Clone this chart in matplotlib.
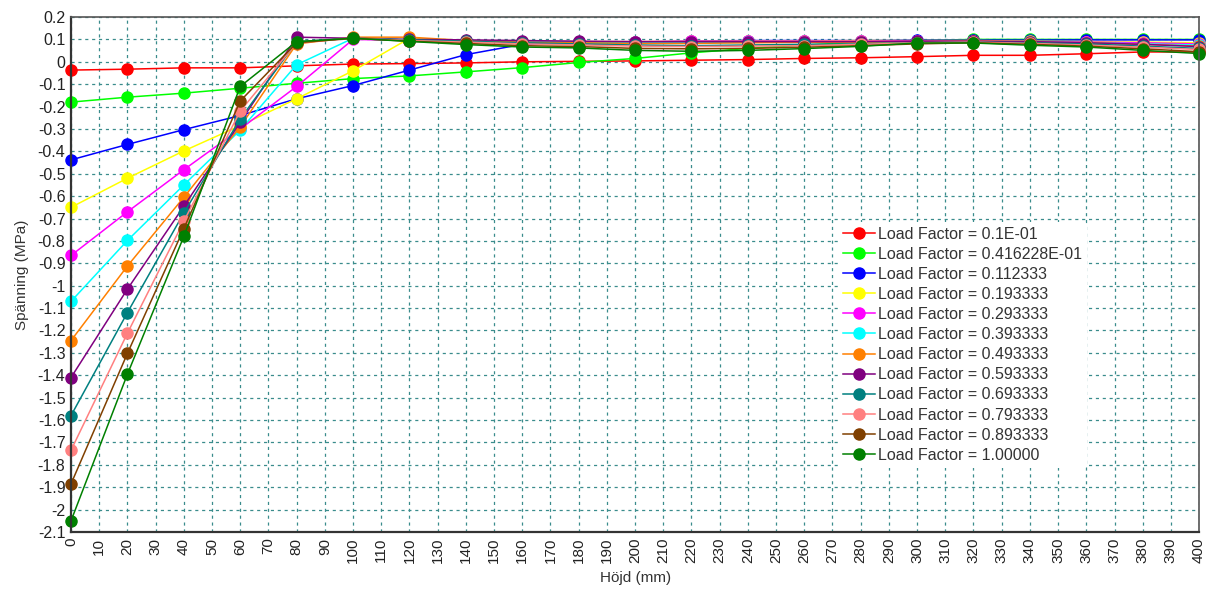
import matplotlib
matplotlib.use("Agg")
import matplotlib.pyplot as plt
import numpy as np

plt.rcParams['font.family'] = ['Liberation Sans', 'DejaVu Sans']

heights = [0, 20, 40, 60, 80, 100, 120, 140, 160, 180, 200, 220, 240, 260, 280, 300, 320, 340, 360, 380, 400]

labels = ["Load Factor = 0.1E-01", "Load Factor = 0.416228E-01", "Load Factor = 0.112333",
          "Load Factor = 0.193333", "Load Factor = 0.293333", "Load Factor = 0.393333",
          "Load Factor = 0.493333", "Load Factor = 0.593333", "Load Factor = 0.693333",
          "Load Factor = 0.793333", "Load Factor = 0.893333", "Load Factor = 1.00000"]

colors = ['#ff0000', '#00ff00', '#0000ff', '#ffff00', '#ff00ff', '#00ffff',
          '#ff8000', '#800080', '#008080', '#ff8080', '#804000', '#008000']

lf_001 = [-0.037, -0.033, -0.027, -0.027, -0.018, -0.010, -0.008, -0.005, 0.000, 0.002, 0.004, 0.007, 0.010, 0.015, 0.018, 0.023, 0.029, 0.029, 0.036, 0.044, 0.044]
lf_0042 = [-0.180, -0.158, -0.140, -0.118, -0.096, -0.075, -0.063, -0.045, -0.026, -0.003, 0.015, 0.040, 0.060, 0.075, 0.088, 0.095, 0.100, 0.100, 0.100, 0.100, 0.100]
lf_0112 = [-0.438, -0.369, -0.303, -0.240, -0.165, -0.106, -0.037, 0.032, 0.078, 0.085, 0.088, 0.092, 0.095, 0.095, 0.095, 0.097, 0.097, 0.097, 0.098, 0.098, 0.098]
lf_0193 = [-0.650, -0.520, -0.398, -0.285, -0.165, -0.040, 0.105, 0.092, 0.090, 0.090, 0.090, 0.092, 0.093, 0.093, 0.095, 0.095, 0.095, 0.092, 0.090, 0.088, 0.085]
lf_0293 = [-0.865, -0.670, -0.482, -0.300, -0.110, 0.100, 0.095, 0.092, 0.090, 0.090, 0.090, 0.092, 0.092, 0.092, 0.092, 0.093, 0.092, 0.090, 0.088, 0.085, 0.080]
lf_0393 = [-1.070, -0.798, -0.550, -0.305, -0.013, 0.105, 0.098, 0.095, 0.090, 0.088, 0.085, 0.085, 0.087, 0.088, 0.088, 0.090, 0.090, 0.088, 0.085, 0.080, 0.075]
lf_0493 = [-1.245, -0.912, -0.605, -0.290, 0.080, 0.110, 0.110, 0.095, 0.088, 0.085, 0.082, 0.082, 0.085, 0.087, 0.088, 0.090, 0.092, 0.088, 0.085, 0.078, 0.070]
lf_0593 = [-1.410, -1.015, -0.645, -0.270, 0.110, 0.105, 0.100, 0.098, 0.095, 0.092, 0.090, 0.090, 0.090, 0.090, 0.090, 0.092, 0.092, 0.090, 0.085, 0.078, 0.068]
lf_0693 = [-1.580, -1.120, -0.675, -0.255, 0.090, 0.105, 0.098, 0.092, 0.085, 0.080, 0.075, 0.072, 0.075, 0.078, 0.080, 0.085, 0.088, 0.085, 0.080, 0.070, 0.060]
lf_0793 = [-1.735, -1.212, -0.712, -0.220, 0.085, 0.105, 0.095, 0.088, 0.080, 0.075, 0.070, 0.068, 0.070, 0.072, 0.078, 0.085, 0.088, 0.082, 0.075, 0.065, 0.055]
lf_0893 = [-1.885, -1.302, -0.745, -0.175, 0.085, 0.105, 0.092, 0.082, 0.072, 0.068, 0.060, 0.058, 0.060, 0.065, 0.072, 0.080, 0.085, 0.078, 0.070, 0.058, 0.045]
lf_1000 = [-2.050, -1.395, -0.780, -0.110, 0.090, 0.105, 0.091, 0.077, 0.066, 0.062, 0.051, 0.047, 0.051, 0.059, 0.069, 0.084, 0.084, 0.074, 0.066, 0.051, 0.037]

series = [lf_001, lf_0042, lf_0112, lf_0193, lf_0293, lf_0393,
          lf_0493, lf_0593, lf_0693, lf_0793, lf_0893, lf_1000]

fig = plt.figure(figsize=(12.1, 5.91), dpi=100)
ax = fig.add_axes([0.0587, 0.0998, 0.9323, 0.8714])

grid_color = '#3a8c8c'
ax.set_axisbelow(True)
ax.grid(True, which='major', color=grid_color, linestyle=(0, (2.5, 3)), linewidth=0.9)

for vals, col, lab in zip(series, colors, labels):
    ax.plot(heights, vals, color=col, linewidth=1.1, marker='o', markersize=8,
            markeredgecolor=col, markerfacecolor=col, label=lab, clip_on=False)

ax.set_xlim(0, 400)
ax.set_ylim(-2.1, 0.2)
xticks = np.arange(0, 401, 10)
ax.set_xticks(xticks)
ax.set_xticklabels([str(t) for t in xticks], rotation=90, fontsize=11)
yt = np.round(np.arange(-2.1, 0.2001, 0.1), 1)
ax.set_yticks(yt)
ylabels = []
for v in yt:
    s = ('%.1f' % v)
    if s.endswith('.0'):
        s = s[:-2]
    if s == '-0':
        s = '0'
    ylabels.append(s)
ax.set_yticklabels(ylabels, fontsize=11.5)
ax.tick_params(axis='both', length=0, pad=4, colors='#222222')

for side in ['left', 'bottom']:
    ax.spines[side].set_linewidth(1.6)
    ax.spines[side].set_color('#333333')
for side in ['top', 'right']:
    ax.spines[side].set_linewidth(1.2)
    ax.spines[side].set_color('#555555')

ax.set_xlabel('Höjd (mm)', fontsize=11, color='#333333', labelpad=6)
ax.set_ylabel('Spänning (MPa)', fontsize=11, color='#333333', labelpad=6)

leg = ax.legend(loc='upper left', bbox_to_anchor=(0.673, 0.618), frameon=True,
                fontsize=11.5, labelspacing=0.32, handlelength=2.0, handletextpad=0.2,
                borderpad=0.3, markerscale=1.0)
leg.get_frame().set_facecolor('white')
leg.get_frame().set_edgecolor('none')
leg.get_frame().set_alpha(1.0)
for t in leg.get_texts():
    t.set_color('#333333')

fig.savefig('out.png', dpi=100)
